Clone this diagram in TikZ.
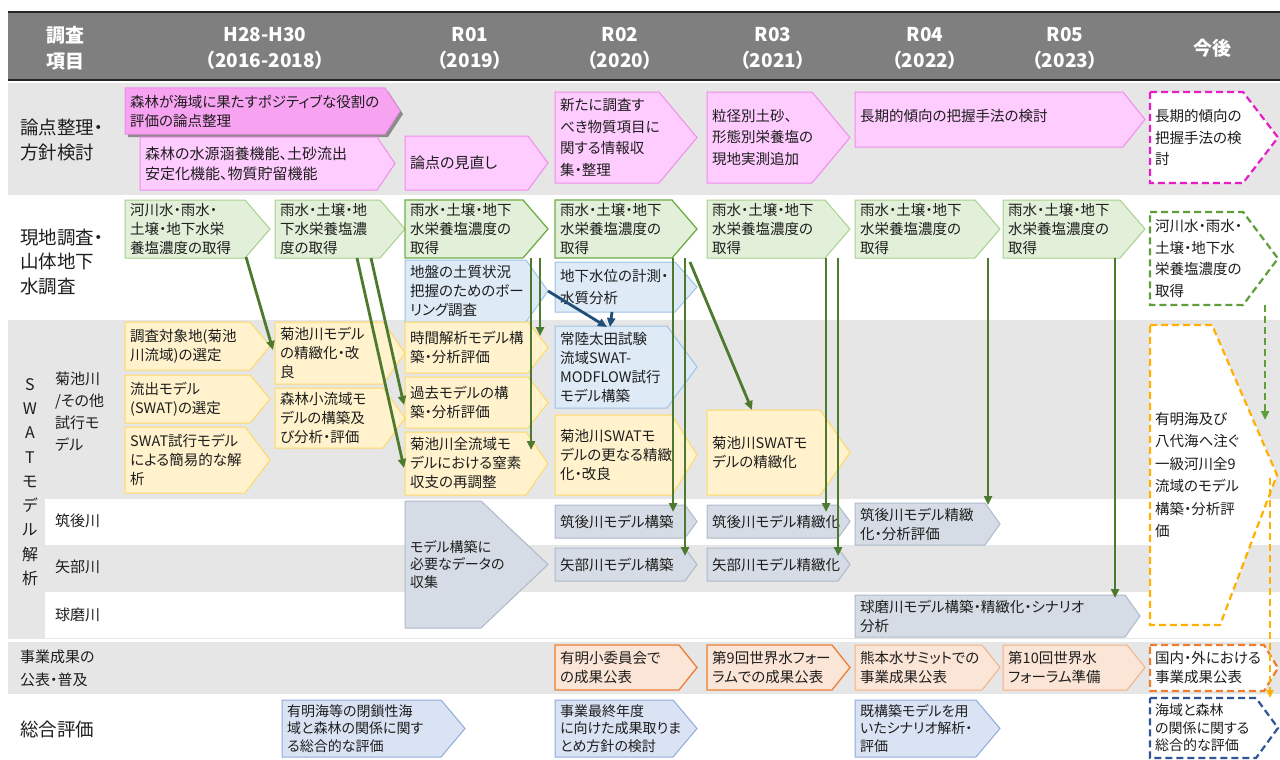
\documentclass[tikz,border=0pt]{standalone}
\usepackage{fontspec}
\setmainfont{Noto Sans CJK JP}[RawFeature=+palt]
\usetikzlibrary{arrows.meta}
\definecolor{hdr}{HTML}{7F7F7F}
\definecolor{bgc}{HTML}{E7E6E6}
\definecolor{txtc}{HTML}{1E1E1E}
\definecolor{pinkF}{HTML}{FFCCFF}
\definecolor{pinkD}{HTML}{F08CEB}
\definecolor{pinkS}{HTML}{F7A3F1}
\definecolor{greenF}{HTML}{E2F0D9}
\definecolor{greenD}{HTML}{A9D18E}
\definecolor{greenM}{HTML}{70AD47}
\definecolor{blueF}{HTML}{DEEBF7}
\definecolor{blueD}{HTML}{9DC3E6}
\definecolor{yelF}{HTML}{FFF2CC}
\definecolor{yelD}{HTML}{FFD966}
\definecolor{grayF}{HTML}{D6DCE5}
\definecolor{grayD}{HTML}{ADB9CA}
\definecolor{orF}{HTML}{FBE5D6}
\definecolor{orD}{HTML}{F4B183}
\definecolor{orM}{HTML}{ED7D31}
\definecolor{cbF}{HTML}{DAE3F3}
\definecolor{cbD}{HTML}{8FAADC}
\definecolor{dPk}{HTML}{E61EC8}
\definecolor{dGr}{HTML}{5F9E3A}
\definecolor{dYl}{HTML}{FFB000}
\definecolor{dOr}{HTML}{ED7D31}
\definecolor{dBl}{HTML}{2F5597}
\definecolor{arG}{HTML}{4E7A30}
\definecolor{arB}{HTML}{1F4E79}
\tikzset{
  txt/.style={inner sep=0pt, align=left, text=txtc, font=\fontsize{14.5}{19}\selectfont},
  tA/.style={font=\fontsize{14.5}{19}\selectfont},
  tB/.style={font=\fontsize{15}{20}\selectfont},
  tC/.style={font=\fontsize{14.5}{21.5}\selectfont},
  tD/.style={font=\fontsize{14}{17.5}\selectfont},
  hd/.style={inner sep=0pt, align=center, text=white, font=\fontsize{19}{26}\selectfont\bfseries},
  lab/.style={inner sep=0pt, align=left, anchor=west, text=txtc, font=\fontsize{18.5}{24.5}\selectfont},
  labs/.style={inner sep=0pt, align=left, anchor=west, text=txtc, font=\fontsize{15}{22}\selectfont},
  bxpk/.style={fill=pinkF, draw=pinkD, line width=1pt},
  bxpks/.style={fill=pinkS, draw=pinkD, line width=1pt},
  bxgr/.style={fill=greenF, draw=greenD, line width=1pt},
  bxgrm/.style={fill=greenF, draw=greenM, line width=1.3pt},
  bxbl/.style={fill=blueF, draw=blueD, line width=1pt},
  bxyl/.style={fill=yelF, draw=yelD, line width=1pt},
  bxgy/.style={fill=grayF, draw=grayD, line width=1pt},
  bxor/.style={fill=orF, draw=orD, line width=1pt},
  bxorm/.style={fill=orF, draw=orM, line width=1.3pt},
  bxcb/.style={fill=cbF, draw=cbD, line width=1pt},
  dsh/.style={fill=white, line width=2.2pt, dash pattern=on 7pt off 4pt},
  garrow/.style={draw=arG, line width=2.8pt, -{Triangle[length=9pt,width=8pt]}},
  barrow/.style={draw=arB, line width=2.8pt, -{Triangle[length=9pt,width=8pt]}},
}
% name, box style, text style, x1, y1, x2, y2, tip depth, text
\newcommand{\hp}[9]{%
  \path[#2] (#4,#5) -- ({#6-#8},#5) -- (#6,{(#5+#7)/2}) -- ({#6-#8},#7) -- (#4,#7) -- cycle;
  \node[txt,anchor=west,#3] (#1) at ({#4+5},{(#5+#7)/2}) {#9};
}
\begin{document}
\begin{tikzpicture}[x=1pt,y=-1pt]
\useasboundingbox (0,0) rectangle (1280,760);
\fill[white] (0,0) rectangle (1280,760);
% ---------- header
\fill[hdr] (8,12) rectangle (1280,80);
\draw[line width=2.5pt,black!85] (8,12) -- (1280,12);
\draw[line width=2.5pt,black!85] (8,80) -- (1280,80);
\node[hd] (h0) at (65,48) {調査\\項目};
\node[hd] (h1) at (265,48) {H28-H30\\（2016-2018）};
\node[hd] (h2) at (470,48) {R01\\（2019）};
\node[hd] (h3) at (620,48) {R02\\（2020）};
\node[hd] (h4) at (773,48) {R03\\（2021）};
\node[hd] (h5) at (925,48) {R04\\（2022）};
\node[hd] (h6) at (1065,48) {R05\\（2023）};
\node[hd] (h7) at (1212,48) {今後};
% ---------- row backgrounds
\fill[bgc] (8,83) rectangle (1280,195);
\fill[bgc] (8,320) rectangle (1280,639);
\fill[white] (45,499) rectangle (1280,545);
\fill[white] (45,592) rectangle (1280,638);
\fill[bgc] (8,642) rectangle (1280,694);
% ---------- row labels
\node[lab] (l1) at (20,140) {論点整理・\\方針検討};
\node[lab] (l2) at (20,262) {現地調査・\\山体地下\\水調査};
\node[inner sep=0pt, align=center, text=txtc, font=\fontsize{16}{24.3}\selectfont] (l3) at (30,482) {S\\W\\A\\T\\モ\\デ\\ル\\解\\析};
\node[labs] (l3a) at (55,412) {菊池川\\/その他\\試行モ\\デル};
\node[labs] (l3b) at (55,521) {筑後川};
\node[labs] (l3c) at (55,567) {矢部川};
\node[labs] (l3d) at (55,615) {球磨川};
\node[inner sep=0pt, align=left, anchor=west, text=txtc, font=\fontsize{15}{23}\selectfont] (l4) at (20,668) {事業成果の\\公表・普及};
\node[lab] (l5) at (20,729) {総合評価};
% ---------- row 1 (pink)
\fill[black!45] (128,91) -- (388,91) -- (403,114) -- (388,137) -- (128,137) -- cycle;
\hp{p1}{bxpks}{tA}{125}{88}{400}{134}{15}{森林が海域に果たすポジティブな役割の\\評価の論点整理}
\hp{p2}{bxpk}{tB}{140}{137}{395}{190}{18}{森林の水源涵養機能、土砂流出\\安定化機能、物質貯留機能}
\hp{p3}{bxpk}{tB}{405}{136}{548}{190}{20}{論点の見直し}
\hp{p4}{bxpk}{tC}{555}{92}{697}{183}{38}{新たに調査す\\べき物質項目に\\関する情報収\\集・整理}
\hp{p5}{bxpk}{tC}{707}{92}{850}{183}{38}{粒径別土砂、\\形態別栄養塩の\\現地実測追加}
\hp{p6}{bxpk}{tA,yshift=4pt}{855}{92}{1145}{147}{22}{長期的傾向の把握手法の検討}
\hp{p7}{dsh,draw=dPk}{tC}{1150}{92}{1278}{183}{35}{長期的傾向の\\把握手法の検\\討}
% ---------- row 2 (green / blue)
\hp{g1}{bxgr}{tA}{125}{200}{270}{258}{25}{河川水・雨水・\\土壌・地下水栄\\養塩濃度の取得}
\hp{g2}{bxgr}{tA}{275}{200}{405}{258}{25}{雨水・土壌・地\\下水栄養塩濃\\度の取得}
\hp{g3}{bxgrm}{tA}{405}{200}{548}{258}{25}{雨水・土壌・地下\\水栄養塩濃度の\\取得}
\hp{g4}{bxgrm}{tA}{555}{200}{697}{258}{25}{雨水・土壌・地下\\水栄養塩濃度の\\取得}
\hp{g5}{bxgr}{tA}{707}{200}{850}{258}{25}{雨水・土壌・地下\\水栄養塩濃度の\\取得}
\hp{g6}{bxgr}{tA}{855}{200}{1000}{258}{25}{雨水・土壌・地下\\水栄養塩濃度の\\取得}
\hp{g7}{bxgr}{tA}{1003}{200}{1145}{258}{25}{雨水・土壌・地下\\水栄養塩濃度の\\取得}
\hp{g8}{dsh,draw=dGr}{tC}{1150}{212}{1278}{305}{35}{河川水・雨水・\\土壌・地下水\\栄養塩濃度の\\取得}
\hp{b1}{bxbl}{tA}{405}{260}{548}{322}{22}{地盤の土質状況\\把握のためのボー\\リング調査}
\hp{b2}{bxbl}{tC}{555}{262}{697}{312}{22}{地下水位の計測・\\水質分析}
% ---------- SWAT (yellow / blue / gray)
\hp{y1}{bxyl}{tA}{125}{322}{270}{370}{20}{調査対象地(菊池\\川流域)の選定}
\hp{y2}{bxyl}{tA}{125}{375}{270}{423}{20}{流出モデル\\(SWAT)の選定}
\hp{y3}{bxyl}{tA}{125}{427}{270}{493}{25}{SWAT試行モデル\\による簡易的な解\\析}
\hp{y4}{bxyl}{tA}{275}{322}{405}{384}{22}{菊池川モデル\\の精緻化・改\\良}
\hp{y5}{bxyl}{tA}{275}{388}{405}{448}{22}{森林小流域モ\\デルの構築及\\び分析・評価}
\hp{y6}{bxyl}{tA}{405}{322}{548}{373}{20}{時間解析モデル構\\築・分析評価}
\hp{y7}{bxyl}{tA}{405}{377}{548}{428}{20}{過去モデルの構\\築・分析評価}
\hp{y8}{bxyl}{tA}{405}{432}{548}{495}{22}{菊池川全流域モ\\デルにおける窒素\\収支の再調整}
\hp{b3}{bxbl}{tA}{555}{326}{697}{408}{30}{常陸太田試験\\流域SWAT-\\MODFLOW試行\\モデル構築}
\hp{y9}{bxyl}{tA}{555}{415}{697}{495}{25}{菊池川SWATモ\\デルの更なる精緻\\化・改良}
\hp{y10}{bxyl}{tA}{707}{410}{850}{495}{30}{菊池川SWATモ\\デルの精緻化}
\path[dsh,draw=dYl] (1150,325) -- (1212,325) -- (1277,475) -- (1220,625) -- (1150,625) -- cycle;
\node[txt,anchor=west,tC,font=\fontsize{14.5}{22.5}\selectfont] (y11) at (1155,475) {有明海及び\\八代海へ注ぐ\\一級河川全9\\流域のモデル\\構築・分析評\\価};
\hp{m1}{bxgy}{tD}{405}{501}{548}{628}{67}{モデル構築に\\必要なデータの\\収集}
\hp{m2}{bxgy}{tA}{555}{505}{697}{538}{12}{筑後川モデル構築}
\hp{m3}{bxgy}{tA}{707}{505}{850}{538}{12}{筑後川モデル精緻化}
\hp{m4}{bxgy}{tA}{855}{503}{1000}{545}{15}{筑後川モデル精緻\\化・分析評価}
\hp{m5}{bxgy}{tA}{555}{548}{697}{581}{12}{矢部川モデル構築}
\hp{m6}{bxgy}{tA}{707}{548}{850}{581}{12}{矢部川モデル精緻化}
\hp{m7}{bxgy}{tA}{855}{595}{1140}{637}{15}{球磨川モデル構築・精緻化・シナリオ\\分析}
% ---------- outreach (orange)
\hp{o1}{bxorm}{tA}{555}{645}{697}{690}{18}{有明小委員会で\\の成果公表}
\hp{o2}{bxorm}{tA}{707}{645}{850}{690}{18}{第9回世界水フォー\\ラムでの成果公表}
\hp{o3}{bxor}{tA}{855}{645}{1000}{690}{18}{熊本水サミットでの\\事業成果公表}
\hp{o4}{bxor}{tA}{1003}{645}{1145}{690}{18}{第10回世界水\\フォーラム準備}
\hp{o5}{dsh,draw=dOr}{tA}{1150}{645}{1278}{691}{14}{国内・外における\\事業成果公表}
% ---------- overall evaluation (blue)
\hp{c1}{bxcb}{tD}{282}{700}{465}{757}{24}{有明海等の閉鎖性海\\域と森林の関係に関す\\る総合的な評価}
\hp{c2}{bxcb}{tD}{555}{700}{697}{757}{24}{事業最終年度\\に向けた成果取りま\\とめ方針の検討}
\hp{c3}{bxcb}{tD}{855}{700}{1000}{757}{24}{既構築モデルを用\\いたシナリオ解析・\\評価}
\hp{c4}{dsh,draw=dBl}{tD}{1150}{698}{1278}{758}{22}{海域と森林\\の関係に関する\\総合的な評価}
% ---------- connectors
\coordinate (a1s) at (246,257); \coordinate (a1e) at (273,350);
\coordinate (a2s) at (357,258); \coordinate (a2e) at (404,468);
\coordinate (a3s) at (371,258); \coordinate (a3e) at (404,405);
\coordinate (a4s) at (531,258); \coordinate (a4e) at (531,450);
\coordinate (a5s) at (540,258); \coordinate (a5e) at (540,336);
\coordinate (a6s) at (673,258); \coordinate (a6e) at (673,512);
\coordinate (a7s) at (685,258); \coordinate (a7e) at (685,556);
\coordinate (a8s) at (690,262); \coordinate (a8e) at (752,410);
\coordinate (a9s) at (826,258); \coordinate (a9e) at (826,512);
\coordinate (a10s) at (838,258); \coordinate (a10e) at (838,556);
\coordinate (a11s) at (988,258); \coordinate (a11e) at (988,505);
\coordinate (a12s) at (1115,258); \coordinate (a12e) at (1115,598);
\draw[garrow] (a1s) -- (a1e);
\draw[garrow] (a2s) -- (a2e);
\draw[garrow] (a3s) -- (a3e);
\draw[garrow] (a4s) -- (a4e);
\draw[garrow] (a5s) -- (a5e);
\draw[garrow] (a6s) -- (a6e);
\draw[garrow] (a7s) -- (a7e);
\draw[garrow] (a8s) -- (a8e);
\draw[garrow] (a9s) -- (a9e);
\draw[garrow] (a10s) -- (a10e);
\draw[garrow] (a11s) -- (a11e);
\draw[garrow] (a12s) -- (a12e);
\coordinate (d1s) at (1265,305); \coordinate (d1e) at (1265,420);
\draw[garrow,draw=dGr,line width=2.2pt,dash pattern=on 7pt off 4pt] (d1s) -- (d1e);
\coordinate (d2s) at (1270,478); \coordinate (d2e) at (1270,698);
\draw[dYl,line width=2.2pt,dash pattern=on 7pt off 4pt,-{Triangle[length=8pt,width=7pt]}] (d2s) -- (d2e);
\coordinate (e1s) at (548,291); \coordinate (e1e) at (607,327);
\coordinate (e2s) at (612,312); \coordinate (e2e) at (610,327);
\draw[barrow] (e1s) -- (e1e);
\draw[barrow] (e2s) -- (e2e);
\end{tikzpicture}
\end{document}
